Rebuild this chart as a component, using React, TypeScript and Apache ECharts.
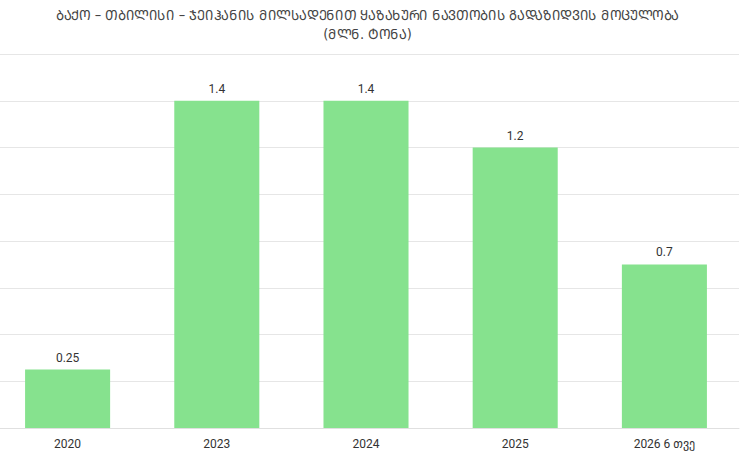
import React, { useEffect, useRef } from "react";
import * as echarts from "echarts";

const titleLines = [
  "ᲑᲐᲥᲝ – ᲗᲑᲘᲚᲘᲡᲘ – ᲯᲔᲘᲰᲐᲜᲘᲡ ᲛᲘᲚᲡᲐᲓᲔᲜᲘᲗ ᲧᲐᲖᲐᲮᲣᲠᲘ ᲜᲐᲕᲗᲝᲑᲘᲡ ᲒᲐᲓᲐᲖᲘᲓᲕᲘᲡ ᲛᲝᲪᲣᲚᲝᲑᲐ",
  "(ᲛᲚᲜ. ᲢᲝᲜᲐ)",
];
const categories = ["2020", "2023", "2024", "2025", "2026 6 თვე"];
const values = [0.25, 1.4, 1.4, 1.2, 0.7];
const labels = ["0.25", "1.4", "1.4", "1.2", "0.7"];

export default function App() {
  const ref = useRef<HTMLDivElement>(null);
  useEffect(() => {
    if (!ref.current) return;
    const chart = echarts.init(ref.current, undefined, { renderer: "svg" });
    const cx = 374.5;
    chart.setOption({
      animation: false,
      graphic: titleLines.map((t, i) => ({
        type: "text",
        x: cx,
        y: 14.5 + i * 19,
        scaleX: 0.93,
        style: {
          text: t,
          align: "center",
          verticalAlign: "middle",
          fill: "#444",
          font: "normal 14px 'DejaVu Sans', sans-serif",
        },
      })),
      grid: { left: 0, right: 3, top: 54, bottom: 35, containLabel: false },
      xAxis: {
        type: "category",
        data: categories,
        axisTick: { show: false },
        axisLine: { lineStyle: { color: "#e0e0e0" } },
        axisLabel: {
          color: "#333",
          fontSize: 12,
          margin: 10,
          fontFamily: "Roboto, 'DejaVu Sans', sans-serif",
        },
      },
      yAxis: {
        type: "value",
        min: 0,
        max: 1.6,
        interval: 0.2,
        axisLabel: { show: false },
        axisLine: { show: false },
        axisTick: { show: false },
        splitLine: { lineStyle: { color: "#e6e6e6" } },
      },
      series: [
        {
          type: "bar",
          data: values,
          barWidth: "57%",
          itemStyle: { color: "#86E28E" },
          label: {
            show: true,
            position: "top",
            distance: 6,
            color: "#333",
            fontSize: 12,
            fontFamily: "Roboto, 'DejaVu Sans', sans-serif",
            formatter: (p: any) => labels[p.dataIndex],
          },
        },
      ],
    });
    return () => chart.dispose();
  }, []);
  return <div ref={ref} style={{ width: 749, height: 463, position: "absolute", left: -7, top: 0 }} />;
}
